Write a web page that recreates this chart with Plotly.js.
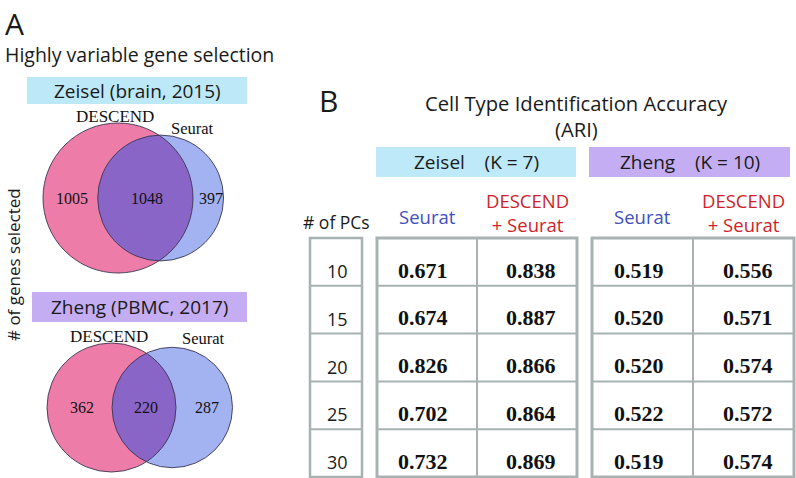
<!DOCTYPE html>
<html><head><meta charset="utf-8">
<script src="https://cdn.plot.ly/plotly-3.0.1.min.js"></script>
<style>html,body{margin:0;padding:0;background:#fff}</style>
</head><body><div id="chart" style="width:796px;height:478px"></div>
<script>
// ---------------- DATA ----------------
const vennSetNames = ['DESCEND', 'Seurat'];
const vennTitles = ['Zeisel (brain, 2015)', 'Zheng (PBMC, 2017)'];
// [DESCEND only, both, Seurat only]
const zeiselVennCounts = [1005, 1048, 397];
const zhengVennCounts = [362, 220, 287];

const pcCounts = [10, 15, 20, 25, 30];
const datasetNames = ['Zeisel', 'Zheng'];
const datasetK = [7, 10];
const methodNames = ['Seurat', 'DESCEND<br>+ Seurat'];
const zeiselSeuratARI = [0.671, 0.674, 0.826, 0.702, 0.732];
const zeiselDescendARI = [0.838, 0.887, 0.866, 0.864, 0.869];
const zhengSeuratARI = [0.519, 0.520, 0.520, 0.522, 0.519];
const zhengDescendARI = [0.556, 0.571, 0.574, 0.572, 0.574];

// ---------------- STYLE / LAYOUT ----------------
const SANS = 'Open Sans, Noto Sans, sans-serif';
const SERIF = 'Liberation Serif, Times New Roman, serif';
const PINK = '#ee7ca8', BLUE = '#a3b3f2', LENS = '#8a65c8', EDGE = '#3b3550';
const GRID = '#a8b2b2';
const shapes = [], ann = [];

function txt(x, y, text, size, opts) {
  ann.push(Object.assign({x: x, y: y, xref: 'x', yref: 'y', text: text, showarrow: false,
    xanchor: 'center', yanchor: 'middle', font: {family: SANS, size: size, color: '#1a1a1a'}}, opts || {}));
}
function rect(x0, x1, y0, y1, fill, lineColor, lw) {
  shapes.push({type: 'rect', xref: 'x', yref: 'y', x0: x0, x1: x1, y0: y0, y1: y1,
    fillcolor: fill || 'rgba(0,0,0,0)', line: {color: lineColor || 'rgba(0,0,0,0)', width: lw || 0}, layer: 'above'});
}

// ---- Panel A ----
txt(14, 23, 'A', 30);
txt(3, 54, 'Highly variable gene selection', 19.5, {xanchor: 'left'});
txt(13, 265, '# of genes selected', 17, {textangle: -90});

function lensArea(r1, r2, d) {
  if (d >= r1 + r2) return 0;
  if (d <= Math.abs(r1 - r2)) return Math.PI * Math.min(r1, r2) ** 2;
  const a1 = Math.acos((d * d + r1 * r1 - r2 * r2) / (2 * d * r1));
  const a2 = Math.acos((d * d + r2 * r2 - r1 * r1) / (2 * d * r2));
  return r1 * r1 * a1 + r2 * r2 * a2 - 0.5 * Math.sqrt((-d + r1 + r2) * (d + r1 - r2) * (d - r1 + r2) * (d + r1 + r2));
}

function drawVenn(counts, cfg) {
  const n1 = counts[0] + counts[1], n2 = counts[2] + counts[1];
  const k = cfg.r1 / Math.sqrt(n1);
  const r1 = cfg.r1, r2 = k * Math.sqrt(n2);
  const target = Math.PI * k * k * counts[1];
  let lo = Math.abs(r1 - r2), hi = r1 + r2;
  for (let i = 0; i < 60; i++) {
    const m = (lo + hi) / 2;
    if (lensArea(r1, r2, m) > target) lo = m; else hi = m;
  }
  const d = (lo + hi) / 2;
  const x1 = cfg.cx, x2 = cfg.cx + d, y = cfg.cy;
  const circ = (cx, r, fill, line) => shapes.push({type: 'circle', xref: 'x', yref: 'y',
    x0: cx - r, x1: cx + r, y0: y - r, y1: y + r, fillcolor: fill,
    line: line ? {color: EDGE, width: 0.9} : {width: 0}, layer: 'above'});
  circ(x1, r1, PINK, false);
  circ(x2, r2, BLUE, false);
  // lens
  const a = (d * d + r1 * r1 - r2 * r2) / (2 * d);
  const h = Math.sqrt(r1 * r1 - a * a);
  const t1 = Math.atan2(h, a), t2 = Math.atan2(h, d - a);
  let p = '';
  const N = 60;
  for (let i = 0; i <= N; i++) {
    const f = -t1 + 2 * t1 * i / N;
    p += (i === 0 ? 'M' : 'L') + (x1 + r1 * Math.cos(f)).toFixed(2) + ',' + (y + r1 * Math.sin(f)).toFixed(2);
  }
  for (let i = 0; i <= N; i++) {
    const f = Math.PI - t2 + 2 * t2 * i / N;
    p += 'L' + (x2 + r2 * Math.cos(f)).toFixed(2) + ',' + (y + r2 * Math.sin(f)).toFixed(2);
  }
  p += 'Z';
  shapes.push({type: 'path', xref: 'x', yref: 'y', path: p, fillcolor: LENS, line: {width: 0}, layer: 'above'});
  circ(x1, r1, 'rgba(0,0,0,0)', true);
  circ(x2, r2, 'rgba(0,0,0,0)', true);
  // region labels
  const L1 = x1 - r1, R1 = x1 + r1, L2 = x2 - r2, R2 = x2 + r2;
  txt((L1 + L2) / 2 + 2, y, String(counts[0]), 16, {font: {family: SERIF, size: 16, color: '#111'}});
  txt((L2 + R1) / 2 + 2, y, String(counts[1]), 16, {font: {family: SERIF, size: 16, color: '#111'}});
  txt((R1 + R2) / 2 + 3, y, String(counts[2]), 16, {font: {family: SERIF, size: 16, color: '#111'}});
  // set names
  txt(cfg.lab1[0], cfg.lab1[1], vennSetNames[0], 17, {font: {family: SERIF, size: 17, color: '#111'}});
  txt(cfg.lab2[0], cfg.lab2[1], vennSetNames[1], 16.5, {font: {family: SERIF, size: 16.5, color: '#111'}});
  // title box
  rect(cfg.box[0], cfg.box[1], cfg.box[2], cfg.box[3], cfg.boxColor);
  txt((cfg.box[0] + cfg.box[1]) / 2, (cfg.box[2] + cfg.box[3]) / 2, cfg.title, 19);
}

drawVenn(zeiselVennCounts, {cx: 118, cy: 198, r1: 75, lab1: [115, 116], lab2: [192, 128],
  box: [27, 247, 77, 104], boxColor: '#bde8f8', title: vennTitles[0]});
drawVenn(zhengVennCounts, {cx: 111.5, cy: 407.5, r1: 64.5, lab1: [109, 336], lab2: [203, 338],
  box: [32, 247, 292, 322], boxColor: '#c5adf4', title: vennTitles[1]});

// ---- Panel B ----
txt(328, 100, 'B', 30);
txt(576, 103, 'Cell Type Identification Accuracy', 20.2);
txt(576, 129, '(ARI)', 20.2);

const rowTop = 238, rowH = 47.8;
const nRows = pcCounts.length;
const tblBottom = rowTop + rowH * nRows;

// PCs column
txt(336, 222, '# of PCs', 17.5);
rect(310, 362, rowTop, tblBottom, null, GRID, 2.5);
pcCounts.forEach((v, i) => {
  if (i > 0) shapes.push({type: 'line', xref: 'x', yref: 'y', x0: 310, x1: 362, y0: rowTop + rowH * i, y1: rowTop + rowH * i, line: {color: GRID, width: 2}, layer: 'above'});
  txt(337, rowTop + rowH * i + 33, String(v), 18);
});

const blocks = [
  {name: datasetNames[0], K: datasetK[0], vals: [zeiselSeuratARI, zeiselDescendARI], x0: 377, xm: 477, x1: 577,
   box: [376, 576], boxColor: '#bde9f9'},
  {name: datasetNames[1], K: datasetK[1], vals: [zhengSeuratARI, zhengDescendARI], x0: 592, xm: 693, x1: 794,
   box: [589, 790], boxColor: '#c5adf4'}
];
const NB = '\u00a0';
blocks.forEach(b => {
  rect(b.box[0], b.box[1], 147, 177, b.boxColor);
  txt((b.box[0] + b.box[1]) / 2, 162, b.name + NB + NB + NB + NB + '(K' + NB + '=' + NB + b.K + ')', 19);
  const c1 = (b.x0 + b.xm) / 2, c2 = (b.xm + b.x1) / 2;
  txt(c1, 216, methodNames[0], 18.5, {font: {family: SANS, size: 18.5, color: '#3f4fc2'}});
  txt(c2, 212, methodNames[1], 18.5, {font: {family: SANS, size: 18.5, color: '#cf1f2a'}});
  rect(b.x0, b.x1, rowTop, tblBottom, null, GRID, 3);
  shapes.push({type: 'line', xref: 'x', yref: 'y', x0: b.xm, x1: b.xm, y0: rowTop, y1: tblBottom, line: {color: GRID, width: 2}, layer: 'above'});
  for (let i = 1; i < nRows; i++) {
    shapes.push({type: 'line', xref: 'x', yref: 'y', x0: b.x0, x1: b.x1, y0: rowTop + rowH * i, y1: rowTop + rowH * i, line: {color: GRID, width: 2}, layer: 'above'});
  }
  b.vals.forEach((col, j) => {
    const cx = j === 0 ? c1 - 4 : c2 + 4;
    col.forEach((v, i) => {
      txt(cx, rowTop + rowH * i + 32, '<b>' + v.toFixed(3) + '</b>', 22, {font: {family: SERIF, size: 22, color: '#111'}});
    });
  });
});

const layout = {
  width: 796, height: 478, margin: {l: 0, r: 0, t: 0, b: 0},
  paper_bgcolor: '#fff', plot_bgcolor: '#fff', showlegend: false,
  xaxis: {range: [0, 796], visible: false, fixedrange: true},
  yaxis: {range: [478, 0], visible: false, fixedrange: true},
  shapes: shapes, annotations: ann
};
Plotly.newPlot('chart', [{x: [], y: [], type: 'scatter', hoverinfo: 'skip'}], layout, {displayModeBar: false, staticPlot: true});
</script></body></html>
